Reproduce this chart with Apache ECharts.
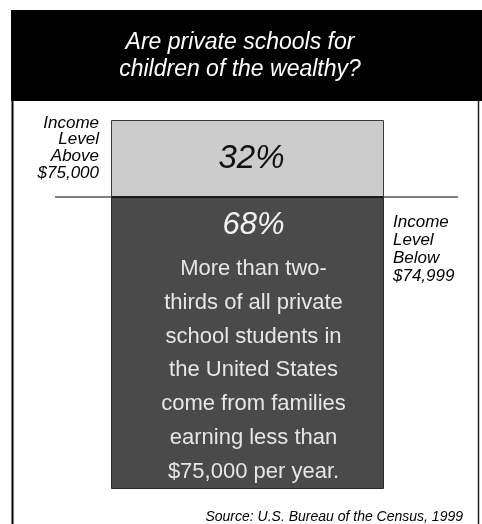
<!DOCTYPE html>
<html>
<head>
<meta charset="utf-8">
<script src="https://cdn.jsdelivr.net/npm/echarts@6/dist/echarts.min.js"></script>
<style>
  html, body { margin: 0; padding: 0; background: #fff; }
  #chart { width: 482px; height: 524px; }
</style>
</head>
<body>
<div id="chart"></div>
<script>
// Share of private school students by family income
const categories = ['Income Level Above $75,000', 'Income Level Below $74,999'];
const shares = [32, 68];
const titleLines = ['Are private schools for', 'children of the wealthy?'];
const aboveLabel = ['Income', 'Level', 'Above', '$75,000'];
const belowLabel = ['Income', 'Level', 'Below', '$74,999'];
const noteLines = [
  'More than two-',
  'thirds of all private',
  'school students in',
  'the United States',
  'come from families',
  'earning less than',
  '$75,000 per year.'
];
const sourceText = 'Source: U.S. Bureau of the Census, 1999';

const FONT = '"Liberation Sans", Arial, sans-serif';
const chart = echarts.init(document.getElementById('chart'), null, { renderer: 'canvas' });

const barLeft = 111, barWidth = 273;
const topY = 120, splitY = 197, bottomY = 489;

function makeAxis(i, max) {
  return {
    x: { type: 'category', gridIndex: i, data: [categories[i]], show: false },
    y: { type: 'value', gridIndex: i, min: 0, max: max, show: false }
  };
}
const a0 = makeAxis(0, shares[0]);
const a1 = makeAxis(1, shares[1]);

chart.setOption({
  backgroundColor: '#ffffff',
  animation: false,
  grid: [
    { left: barLeft, width: barWidth, top: topY, height: splitY - topY },
    { left: barLeft, width: barWidth, top: splitY, height: bottomY - splitY }
  ],
  xAxis: [a0.x, a1.x],
  yAxis: [a0.y, a1.y],
  series: [
    {
      type: 'bar', xAxisIndex: 0, yAxisIndex: 0,
      data: [shares[0]], barWidth: '100%',
      itemStyle: { color: '#cccccc', borderColor: '#3a3a3a', borderWidth: 1 },
      label: {
        show: true, position: 'inside',
        formatter: p => p.value + '%',
        fontFamily: FONT, fontStyle: 'italic', fontSize: 33, color: '#111',
        offset: [4, 0]
      }
    },
    {
      type: 'bar', xAxisIndex: 1, yAxisIndex: 1,
      data: [shares[1]], barWidth: '100%',
      itemStyle: { color: '#4a4a4a', borderColor: '#2a2a2a', borderWidth: 1 },
      label: {
        show: true, position: 'insideTop', distance: 1,
        formatter: p => '{pct|' + p.value + '%}\n' + noteLines.map(l => '{body|' + l + '}').join('\n'),
        rich: {
          pct: { fontFamily: FONT, fontStyle: 'italic', fontSize: 31, color: '#f2f2f2', lineHeight: 54, align: 'center' },
          body: { fontFamily: FONT, fontSize: 22, color: '#e6e6e6', lineHeight: 33.8, align: 'center' }
        },
        offset: [6, 0]
      }
    }
  ],
  graphic: [
    // frame
    { type: 'line', shape: { x1: 12.5, y1: 100, x2: 12.5, y2: 524 }, style: { stroke: '#000', lineWidth: 2 } },
    { type: 'line', shape: { x1: 478.5, y1: 100, x2: 478.5, y2: 524 }, style: { stroke: '#222', lineWidth: 1.5 } },
    // header
    { type: 'rect', shape: { x: 11, y: 10, width: 471, height: 91 }, style: { fill: '#000' } },
    {
      type: 'text', x: 240, y: 56,
      style: {
        text: titleLines.join('\n'), fill: '#fff', font: 'italic 23px ' + FONT,
        align: 'center', verticalAlign: 'middle', lineHeight: 27
      }
    },
    // divider between the two income groups
    { type: 'line', shape: { x1: 55, y1: splitY, x2: 458, y2: splitY }, style: { stroke: '#000', lineWidth: 1 }, z: 100 },
    {
      type: 'text', x: 99, y: 148,
      style: {
        text: aboveLabel.join('\n'), fill: '#000', font: 'italic 17px ' + FONT,
        align: 'right', verticalAlign: 'middle', lineHeight: 16.8
      }
    },
    {
      type: 'text', x: 393, y: 249,
      style: {
        text: belowLabel.join('\n'), fill: '#000', font: 'italic 17px ' + FONT,
        align: 'left', verticalAlign: 'middle', lineHeight: 18
      }
    },
    {
      type: 'text', x: 463, y: 517,
      style: {
        text: sourceText, fill: '#000', font: 'italic 14px ' + FONT,
        align: 'right', verticalAlign: 'middle'
      }
    }
  ]
});
</script>
</body>
</html>
